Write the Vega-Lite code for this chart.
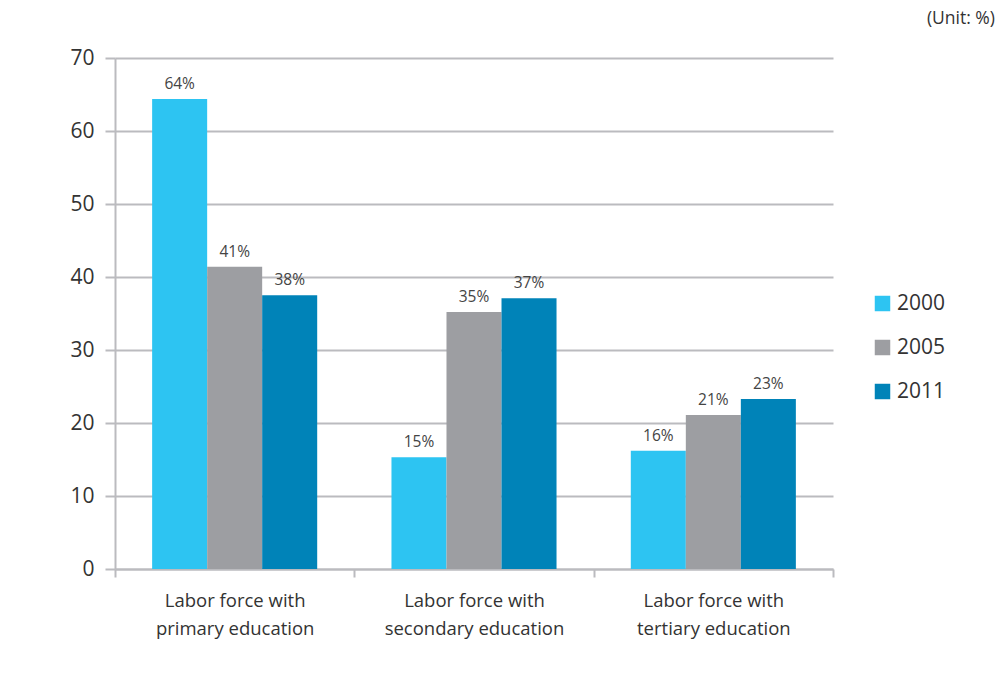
{
  "$schema": "https://vega.github.io/schema/vega-lite/v6.json",
  "width": 718,
  "height": 511,
  "autosize": {"type": "none"},
  "padding": {"left": 115, "top": 58, "right": 168, "bottom": 108},
  "background": "white",
  "config": {
    "font": "Open Sans",
    "view": {"stroke": null}
  },
  "title": {
    "text": "(Unit: %)",
    "anchor": "end",
    "frame": "group",
    "orient": "top",
    "fontSize": 17.5,
    "fontWeight": "normal",
    "color": "#333333",
    "dx": 162,
    "offset": 20
  },
  "data": {
    "values": [
      {"cat": "Labor force with\nprimary education", "year": "2000", "value": 64.4, "label": "64%"},
      {"cat": "Labor force with\nprimary education", "year": "2005", "value": 41.4, "label": "41%"},
      {"cat": "Labor force with\nprimary education", "year": "2011", "value": 37.5, "label": "38%"},
      {"cat": "Labor force with\nsecondary education", "year": "2000", "value": 15.3, "label": "15%"},
      {"cat": "Labor force with\nsecondary education", "year": "2005", "value": 35.2, "label": "35%"},
      {"cat": "Labor force with\nsecondary education", "year": "2011", "value": 37.1, "label": "37%"},
      {"cat": "Labor force with\ntertiary education", "year": "2000", "value": 16.2, "label": "16%"},
      {"cat": "Labor force with\ntertiary education", "year": "2005", "value": 21.1, "label": "21%"},
      {"cat": "Labor force with\ntertiary education", "year": "2011", "value": 23.3, "label": "23%"}
    ]
  },
  "encoding": {
    "x": {
      "field": "cat",
      "type": "nominal",
      "sort": null,
      "scale": {"paddingInner": 0, "paddingOuter": 0},
      "axis": {
        "title": null,
        "labelAngle": 0,
        "labelExpr": "split(datum.label, '\\n')",
        "labelFontSize": 18.5,
        "labelLimit": 400,
        "labelOverlap": false,
        "labelColor": "#333333",
        "labelLineHeight": 28,
        "labelPadding": 14,
        "labelBaseline": "top",
        "tickBand": "extent",
        "tickColor": "#bbbbbf",
        "tickSize": 8,
        "tickWidth": 2,
        "domainColor": "#bbbbbf",
        "domainWidth": 2
      }
    },
    "xOffset": {
      "field": "year",
      "type": "nominal",
      "scale": {"paddingInner": 0, "paddingOuter": 0.675}
    },
    "y": {
      "field": "value",
      "type": "quantitative",
      "scale": {"domain": [0, 70]},
      "axis": {
        "title": null,
        "values": [0, 10, 20, 30, 40, 50, 60, 70],
        "labelFontSize": 21,
        "labelColor": "#333333",
        "labelPadding": 11,
        "gridColor": "#bbbbbf",
        "gridWidth": 2,
        "tickColor": "#bbbbbf",
        "tickWidth": 2,
        "tickSize": 10,
        "domainColor": "#bbbbbf",
        "domainWidth": 2
      }
    }
  },
  "layer": [
    {
      "mark": {"type": "bar"},
      "encoding": {
        "color": {
          "field": "year",
          "type": "nominal",
          "scale": {"domain": ["2000", "2005", "2011"], "range": ["#2dc4f2", "#9d9ea2", "#0083b8"]},
          "legend": {
            "title": null,
            "orient": "none",
            "legendX": 757,
            "legendY": 235,
            "symbolType": "square",
            "symbolSize": 240,
            "symbolStrokeWidth": 0,
            "labelFontSize": 21,
            "labelColor": "#333333",
            "labelOffset": 4,
            "rowPadding": 22
          }
        }
      }
    },
    {
      "mark": {"type": "text", "baseline": "bottom", "dy": -7, "fontSize": 15.5, "color": "#444444"},
      "encoding": {"text": {"field": "label"}}
    }
  ]
}
